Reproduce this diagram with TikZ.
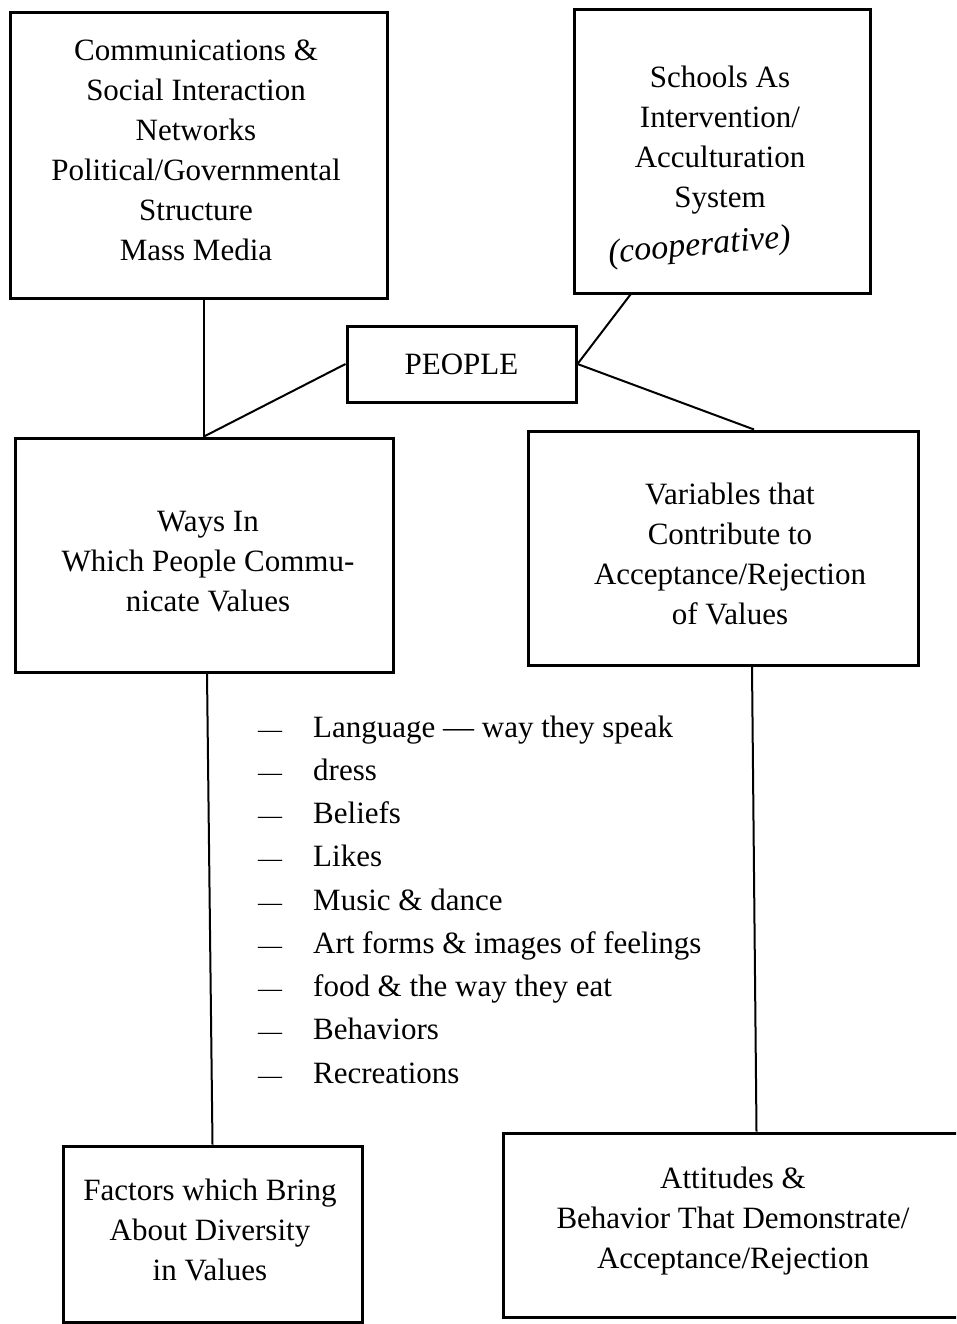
\documentclass[tikz,border=0pt]{standalone}
\usepackage{fontspec}
\setmainfont{Liberation Serif}
\newcommand\listdash{\makebox[55pt][l]{\fontsize{24}{24}\selectfont —}}
\begin{document}
\begin{tikzpicture}[x=1pt,y=-1pt]
\tikzset{
  frame/.style={draw=black, line width=3pt, rectangle, inner sep=0pt},
  boxtext/.style={align=center, font=\fontsize{31}{40}\selectfont, inner sep=0pt},
  link/.style={draw=black, line width=2pt},
  listitem/.style={anchor=base west, font=\fontsize{31}{40}\selectfont, inner sep=0pt},
}
\clip (0,0) rectangle (956,1324);
\fill[white] (0,0) rectangle (956,1324);

% upper row
\node[frame, minimum width=377pt, minimum height=285pt] (comm) at (198.5,155.5) {};
\node[boxtext] (commtext) at (196,150)
  {Communications \&\\Social Interaction\\Networks\\Political/Governmental\\Structure\\Mass Media};

\node[frame, minimum width=296pt, minimum height=283pt] (school) at (722,151.5) {};
\node[boxtext] (schooltext) at (720,140) {Schools As\\Intervention/\\Acculturation\\System};
\node[font=\fontsize{34}{34}\selectfont\itshape, rotate=5, inner sep=0pt] (coop) at (700,247) {(cooperative)};

% hub
\node[frame, minimum width=229pt, minimum height=76pt, font=\fontsize{31}{40}\selectfont] (people) at (461.5,364) {PEOPLE};

% middle row
\node[frame, minimum width=378pt, minimum height=234pt] (ways) at (204,555) {};
\node[boxtext] (waystext) at (208,562) {Ways In\\Which People Commu-\\nicate Values};

\node[frame, minimum width=390pt, minimum height=234pt] (vars) at (723,548) {};
\node[boxtext] (varstext) at (730,554) {Variables that\\Contribute to\\Acceptance/Rejection\\of Values};

% bottom row
\node[frame, minimum width=299pt, minimum height=176pt] (factors) at (212.5,1234) {};
\node[boxtext] (factorstext) at (210,1230) {Factors which Bring\\About Diversity\\in Values};

\node[frame, minimum width=507pt, minimum height=184pt] (attitudes) at (756.5,1225) {};
\node[boxtext] (attitudestext) at (733,1221) {Attitudes \&\\Behavior That Demonstrate/\\Acceptance/Rejection};

% connectors
\draw[link] (ways.north |- comm.south) -- (ways.north);
\draw[link] (people.west) -- (ways.north);
\draw[link] ([xshift=58pt]school.south west) -- (people.east);
\draw[link] (people.east) -- ([xshift=31pt]vars.north);
\draw[link] ([xshift=3pt]ways.south) -- (factors.north);
\draw[link] ([xshift=29pt]vars.south) -- (attitudes.north);

% list of ways
\foreach \txt [count=\i] in {
  {Language — way they speak},
  {dress},
  {Beliefs},
  {Likes},
  {Music \& dance},
  {Art forms \& images of feelings},
  {food \& the way they eat},
  {Behaviors},
  {Recreations}}
  \node[listitem] (item\i) at (258,{737+(\i-1)*43.25}) {\listdash\txt};
\end{tikzpicture}
\end{document}
